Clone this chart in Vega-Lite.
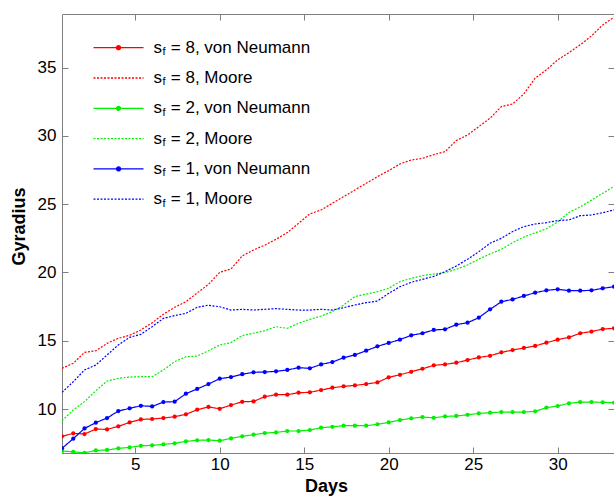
{
  "$schema": "https://vega.github.io/schema/vega-lite/v6.json",
  "width": 552,
  "height": 439,
  "autosize": {"type": "none"},
  "padding": {"left": 62, "top": 14, "right": 0, "bottom": 47},
  "background": "white",
  "config": {
    "font": "Liberation Sans",
    "view": {"stroke": "#7f7f7f", "strokeWidth": 1},
    "axis": {
      "grid": false, "domain": false, "tickColor": "#7f7f7f", "tickSize": -6, "tickWidth": 1,
      "labelFont": "Liberation Sans", "labelFontSize": 17, "labelColor": "#000000",
      "titleFont": "Liberation Sans", "titleFontSize": 18, "titleFontWeight": "bold", "titleColor": "#000000"
    },
    "legend": {"labelFont": "Liberation Sans", "labelFontSize": 17, "labelColor": "#000000", "padding": 0}
  },
  "datasets": {
    "gyr": [
      {"day":0.667,"gyr":8.00,"series":"sf = 8, von Neumann"},{"day":1.333,"gyr":8.22,"series":"sf = 8, von Neumann"},{"day":2.000,"gyr":8.17,"series":"sf = 8, von Neumann"},{"day":2.667,"gyr":8.53,"series":"sf = 8, von Neumann"},{"day":3.333,"gyr":8.51,"series":"sf = 8, von Neumann"},{"day":4.000,"gyr":8.73,"series":"sf = 8, von Neumann"},{"day":4.667,"gyr":9.02,"series":"sf = 8, von Neumann"},{"day":5.333,"gyr":9.24,"series":"sf = 8, von Neumann"},{"day":6.000,"gyr":9.27,"series":"sf = 8, von Neumann"},{"day":6.667,"gyr":9.34,"series":"sf = 8, von Neumann"},
      {"day":7.333,"gyr":9.44,"series":"sf = 8, von Neumann"},{"day":8.000,"gyr":9.61,"series":"sf = 8, von Neumann"},{"day":8.667,"gyr":9.95,"series":"sf = 8, von Neumann"},{"day":9.333,"gyr":10.15,"series":"sf = 8, von Neumann"},{"day":10.000,"gyr":10.02,"series":"sf = 8, von Neumann"},{"day":10.667,"gyr":10.29,"series":"sf = 8, von Neumann"},{"day":11.333,"gyr":10.53,"series":"sf = 8, von Neumann"},{"day":12.000,"gyr":10.56,"series":"sf = 8, von Neumann"},{"day":12.667,"gyr":10.90,"series":"sf = 8, von Neumann"},{"day":13.333,"gyr":11.05,"series":"sf = 8, von Neumann"},
      {"day":14.000,"gyr":11.05,"series":"sf = 8, von Neumann"},{"day":14.667,"gyr":11.20,"series":"sf = 8, von Neumann"},{"day":15.333,"gyr":11.22,"series":"sf = 8, von Neumann"},{"day":16.000,"gyr":11.39,"series":"sf = 8, von Neumann"},{"day":16.667,"gyr":11.56,"series":"sf = 8, von Neumann"},{"day":17.333,"gyr":11.66,"series":"sf = 8, von Neumann"},{"day":18.000,"gyr":11.73,"series":"sf = 8, von Neumann"},{"day":18.667,"gyr":11.83,"series":"sf = 8, von Neumann"},{"day":19.333,"gyr":11.95,"series":"sf = 8, von Neumann"},{"day":20.000,"gyr":12.32,"series":"sf = 8, von Neumann"},
      {"day":20.667,"gyr":12.51,"series":"sf = 8, von Neumann"},{"day":21.333,"gyr":12.73,"series":"sf = 8, von Neumann"},{"day":22.000,"gyr":12.95,"series":"sf = 8, von Neumann"},{"day":22.667,"gyr":13.20,"series":"sf = 8, von Neumann"},{"day":23.333,"gyr":13.27,"series":"sf = 8, von Neumann"},{"day":24.000,"gyr":13.39,"series":"sf = 8, von Neumann"},{"day":24.667,"gyr":13.59,"series":"sf = 8, von Neumann"},{"day":25.333,"gyr":13.78,"series":"sf = 8, von Neumann"},{"day":26.000,"gyr":13.90,"series":"sf = 8, von Neumann"},{"day":26.667,"gyr":14.15,"series":"sf = 8, von Neumann"},
      {"day":27.333,"gyr":14.32,"series":"sf = 8, von Neumann"},{"day":28.000,"gyr":14.47,"series":"sf = 8, von Neumann"},{"day":28.667,"gyr":14.62,"series":"sf = 8, von Neumann"},{"day":29.333,"gyr":14.86,"series":"sf = 8, von Neumann"},{"day":30.000,"gyr":15.08,"series":"sf = 8, von Neumann"},{"day":30.667,"gyr":15.25,"series":"sf = 8, von Neumann"},{"day":31.333,"gyr":15.55,"series":"sf = 8, von Neumann"},{"day":32.000,"gyr":15.67,"series":"sf = 8, von Neumann"},{"day":32.667,"gyr":15.86,"series":"sf = 8, von Neumann"},{"day":33.333,"gyr":15.91,"series":"sf = 8, von Neumann"},

      {"day":0.667,"gyr":12.98,"series":"sf = 8, Moore"},{"day":1.333,"gyr":13.35,"series":"sf = 8, Moore"},{"day":2.000,"gyr":14.15,"series":"sf = 8, Moore"},{"day":2.667,"gyr":14.27,"series":"sf = 8, Moore"},{"day":3.333,"gyr":14.81,"series":"sf = 8, Moore"},{"day":4.000,"gyr":15.18,"series":"sf = 8, Moore"},{"day":4.667,"gyr":15.40,"series":"sf = 8, Moore"},{"day":5.333,"gyr":15.79,"series":"sf = 8, Moore"},{"day":6.000,"gyr":16.32,"series":"sf = 8, Moore"},{"day":6.667,"gyr":16.94,"series":"sf = 8, Moore"},
      {"day":7.333,"gyr":17.45,"series":"sf = 8, Moore"},{"day":8.000,"gyr":17.86,"series":"sf = 8, Moore"},{"day":8.667,"gyr":18.50,"series":"sf = 8, Moore"},{"day":9.333,"gyr":19.13,"series":"sf = 8, Moore"},{"day":10.000,"gyr":20.01,"series":"sf = 8, Moore"},{"day":10.667,"gyr":20.26,"series":"sf = 8, Moore"},{"day":11.333,"gyr":21.21,"series":"sf = 8, Moore"},{"day":12.000,"gyr":21.65,"series":"sf = 8, Moore"},{"day":12.667,"gyr":22.00,"series":"sf = 8, Moore"},{"day":13.333,"gyr":22.43,"series":"sf = 8, Moore"},
      {"day":14.000,"gyr":22.92,"series":"sf = 8, Moore"},{"day":14.667,"gyr":23.60,"series":"sf = 8, Moore"},{"day":15.333,"gyr":24.29,"series":"sf = 8, Moore"},{"day":16.000,"gyr":24.58,"series":"sf = 8, Moore"},{"day":16.667,"gyr":25.07,"series":"sf = 8, Moore"},{"day":17.333,"gyr":25.55,"series":"sf = 8, Moore"},{"day":18.000,"gyr":26.04,"series":"sf = 8, Moore"},{"day":18.667,"gyr":26.53,"series":"sf = 8, Moore"},{"day":19.333,"gyr":27.02,"series":"sf = 8, Moore"},{"day":20.000,"gyr":27.46,"series":"sf = 8, Moore"},
      {"day":20.667,"gyr":27.95,"series":"sf = 8, Moore"},{"day":21.333,"gyr":28.24,"series":"sf = 8, Moore"},{"day":22.000,"gyr":28.36,"series":"sf = 8, Moore"},{"day":22.667,"gyr":28.63,"series":"sf = 8, Moore"},{"day":23.333,"gyr":28.85,"series":"sf = 8, Moore"},{"day":24.000,"gyr":29.66,"series":"sf = 8, Moore"},{"day":24.667,"gyr":30.07,"series":"sf = 8, Moore"},{"day":25.333,"gyr":30.68,"series":"sf = 8, Moore"},{"day":26.000,"gyr":31.30,"series":"sf = 8, Moore"},{"day":26.667,"gyr":32.15,"series":"sf = 8, Moore"},
      {"day":27.333,"gyr":32.34,"series":"sf = 8, Moore"},{"day":28.000,"gyr":33.08,"series":"sf = 8, Moore"},{"day":28.667,"gyr":34.23,"series":"sf = 8, Moore"},{"day":29.333,"gyr":34.84,"series":"sf = 8, Moore"},{"day":30.000,"gyr":35.57,"series":"sf = 8, Moore"},{"day":30.667,"gyr":36.10,"series":"sf = 8, Moore"},{"day":31.333,"gyr":36.67,"series":"sf = 8, Moore"},{"day":32.000,"gyr":37.33,"series":"sf = 8, Moore"},{"day":32.667,"gyr":38.13,"series":"sf = 8, Moore"},{"day":33.333,"gyr":38.70,"series":"sf = 8, Moore"},

      {"day":0.667,"gyr":6.92,"series":"sf = 2, von Neumann"},{"day":1.333,"gyr":6.87,"series":"sf = 2, von Neumann"},{"day":2.000,"gyr":6.79,"series":"sf = 2, von Neumann"},{"day":2.667,"gyr":6.97,"series":"sf = 2, von Neumann"},{"day":3.333,"gyr":7.00,"series":"sf = 2, von Neumann"},{"day":4.000,"gyr":7.12,"series":"sf = 2, von Neumann"},{"day":4.667,"gyr":7.19,"series":"sf = 2, von Neumann"},{"day":5.333,"gyr":7.31,"series":"sf = 2, von Neumann"},{"day":6.000,"gyr":7.34,"series":"sf = 2, von Neumann"},{"day":6.667,"gyr":7.41,"series":"sf = 2, von Neumann"},
      {"day":7.333,"gyr":7.49,"series":"sf = 2, von Neumann"},{"day":8.000,"gyr":7.63,"series":"sf = 2, von Neumann"},{"day":8.667,"gyr":7.71,"series":"sf = 2, von Neumann"},{"day":9.333,"gyr":7.73,"series":"sf = 2, von Neumann"},{"day":10.000,"gyr":7.68,"series":"sf = 2, von Neumann"},{"day":10.667,"gyr":7.85,"series":"sf = 2, von Neumann"},{"day":11.333,"gyr":8.00,"series":"sf = 2, von Neumann"},{"day":12.000,"gyr":8.12,"series":"sf = 2, von Neumann"},{"day":12.667,"gyr":8.24,"series":"sf = 2, von Neumann"},{"day":13.333,"gyr":8.29,"series":"sf = 2, von Neumann"},
      {"day":14.000,"gyr":8.39,"series":"sf = 2, von Neumann"},{"day":14.667,"gyr":8.39,"series":"sf = 2, von Neumann"},{"day":15.333,"gyr":8.46,"series":"sf = 2, von Neumann"},{"day":16.000,"gyr":8.63,"series":"sf = 2, von Neumann"},{"day":16.667,"gyr":8.70,"series":"sf = 2, von Neumann"},{"day":17.333,"gyr":8.78,"series":"sf = 2, von Neumann"},{"day":18.000,"gyr":8.78,"series":"sf = 2, von Neumann"},{"day":18.667,"gyr":8.78,"series":"sf = 2, von Neumann"},{"day":19.333,"gyr":8.88,"series":"sf = 2, von Neumann"},{"day":20.000,"gyr":9.02,"series":"sf = 2, von Neumann"},
      {"day":20.667,"gyr":9.19,"series":"sf = 2, von Neumann"},{"day":21.333,"gyr":9.32,"series":"sf = 2, von Neumann"},{"day":22.000,"gyr":9.41,"series":"sf = 2, von Neumann"},{"day":22.667,"gyr":9.36,"series":"sf = 2, von Neumann"},{"day":23.333,"gyr":9.46,"series":"sf = 2, von Neumann"},{"day":24.000,"gyr":9.49,"series":"sf = 2, von Neumann"},{"day":24.667,"gyr":9.58,"series":"sf = 2, von Neumann"},{"day":25.333,"gyr":9.68,"series":"sf = 2, von Neumann"},{"day":26.000,"gyr":9.73,"series":"sf = 2, von Neumann"},{"day":26.667,"gyr":9.78,"series":"sf = 2, von Neumann"},
      {"day":27.333,"gyr":9.78,"series":"sf = 2, von Neumann"},{"day":28.000,"gyr":9.78,"series":"sf = 2, von Neumann"},{"day":28.667,"gyr":9.83,"series":"sf = 2, von Neumann"},{"day":29.333,"gyr":10.10,"series":"sf = 2, von Neumann"},{"day":30.000,"gyr":10.22,"series":"sf = 2, von Neumann"},{"day":30.667,"gyr":10.42,"series":"sf = 2, von Neumann"},{"day":31.333,"gyr":10.51,"series":"sf = 2, von Neumann"},{"day":32.000,"gyr":10.51,"series":"sf = 2, von Neumann"},{"day":32.667,"gyr":10.49,"series":"sf = 2, von Neumann"},{"day":33.333,"gyr":10.46,"series":"sf = 2, von Neumann"},

      {"day":0.667,"gyr":9.14,"series":"sf = 2, Moore"},{"day":1.333,"gyr":9.93,"series":"sf = 2, Moore"},{"day":2.000,"gyr":10.54,"series":"sf = 2, Moore"},{"day":2.667,"gyr":11.34,"series":"sf = 2, Moore"},{"day":3.333,"gyr":12.05,"series":"sf = 2, Moore"},{"day":4.000,"gyr":12.25,"series":"sf = 2, Moore"},{"day":4.667,"gyr":12.34,"series":"sf = 2, Moore"},{"day":5.333,"gyr":12.37,"series":"sf = 2, Moore"},{"day":6.000,"gyr":12.37,"series":"sf = 2, Moore"},{"day":6.667,"gyr":12.86,"series":"sf = 2, Moore"},
      {"day":7.333,"gyr":13.47,"series":"sf = 2, Moore"},{"day":8.000,"gyr":13.83,"series":"sf = 2, Moore"},{"day":8.667,"gyr":13.88,"series":"sf = 2, Moore"},{"day":9.333,"gyr":14.27,"series":"sf = 2, Moore"},{"day":10.000,"gyr":14.69,"series":"sf = 2, Moore"},{"day":10.667,"gyr":14.86,"series":"sf = 2, Moore"},{"day":11.333,"gyr":15.38,"series":"sf = 2, Moore"},{"day":12.000,"gyr":15.55,"series":"sf = 2, Moore"},{"day":12.667,"gyr":15.74,"series":"sf = 2, Moore"},{"day":13.333,"gyr":16.03,"series":"sf = 2, Moore"},
      {"day":14.000,"gyr":15.91,"series":"sf = 2, Moore"},{"day":14.667,"gyr":16.28,"series":"sf = 2, Moore"},{"day":15.333,"gyr":16.57,"series":"sf = 2, Moore"},{"day":16.000,"gyr":16.81,"series":"sf = 2, Moore"},{"day":16.667,"gyr":17.13,"series":"sf = 2, Moore"},{"day":17.333,"gyr":17.62,"series":"sf = 2, Moore"},{"day":18.000,"gyr":18.23,"series":"sf = 2, Moore"},{"day":18.667,"gyr":18.42,"series":"sf = 2, Moore"},{"day":19.333,"gyr":18.59,"series":"sf = 2, Moore"},{"day":20.000,"gyr":18.84,"series":"sf = 2, Moore"},
      {"day":20.667,"gyr":19.33,"series":"sf = 2, Moore"},{"day":21.333,"gyr":19.57,"series":"sf = 2, Moore"},{"day":22.000,"gyr":19.77,"series":"sf = 2, Moore"},{"day":22.667,"gyr":19.89,"series":"sf = 2, Moore"},{"day":23.333,"gyr":19.99,"series":"sf = 2, Moore"},{"day":24.000,"gyr":20.23,"series":"sf = 2, Moore"},{"day":24.667,"gyr":20.55,"series":"sf = 2, Moore"},{"day":25.333,"gyr":20.97,"series":"sf = 2, Moore"},{"day":26.000,"gyr":21.36,"series":"sf = 2, Moore"},{"day":26.667,"gyr":21.70,"series":"sf = 2, Moore"},
      {"day":27.333,"gyr":22.18,"series":"sf = 2, Moore"},{"day":28.000,"gyr":22.60,"series":"sf = 2, Moore"},{"day":28.667,"gyr":22.90,"series":"sf = 2, Moore"},{"day":29.333,"gyr":23.20,"series":"sf = 2, Moore"},{"day":30.000,"gyr":23.70,"series":"sf = 2, Moore"},{"day":30.667,"gyr":24.40,"series":"sf = 2, Moore"},{"day":31.333,"gyr":24.80,"series":"sf = 2, Moore"},{"day":32.000,"gyr":25.30,"series":"sf = 2, Moore"},{"day":32.667,"gyr":25.80,"series":"sf = 2, Moore"},{"day":33.333,"gyr":26.30,"series":"sf = 2, Moore"},

      {"day":0.667,"gyr":7.12,"series":"sf = 1, von Neumann"},{"day":1.333,"gyr":7.83,"series":"sf = 1, von Neumann"},{"day":2.000,"gyr":8.58,"series":"sf = 1, von Neumann"},{"day":2.667,"gyr":9.00,"series":"sf = 1, von Neumann"},{"day":3.333,"gyr":9.34,"series":"sf = 1, von Neumann"},{"day":4.000,"gyr":9.85,"series":"sf = 1, von Neumann"},{"day":4.667,"gyr":10.05,"series":"sf = 1, von Neumann"},{"day":5.333,"gyr":10.24,"series":"sf = 1, von Neumann"},{"day":6.000,"gyr":10.19,"series":"sf = 1, von Neumann"},{"day":6.667,"gyr":10.51,"series":"sf = 1, von Neumann"},
      {"day":7.333,"gyr":10.54,"series":"sf = 1, von Neumann"},{"day":8.000,"gyr":11.12,"series":"sf = 1, von Neumann"},{"day":8.667,"gyr":11.47,"series":"sf = 1, von Neumann"},{"day":9.333,"gyr":11.83,"series":"sf = 1, von Neumann"},{"day":10.000,"gyr":12.22,"series":"sf = 1, von Neumann"},{"day":10.667,"gyr":12.34,"series":"sf = 1, von Neumann"},{"day":11.333,"gyr":12.55,"series":"sf = 1, von Neumann"},{"day":12.000,"gyr":12.69,"series":"sf = 1, von Neumann"},{"day":12.667,"gyr":12.71,"series":"sf = 1, von Neumann"},{"day":13.333,"gyr":12.76,"series":"sf = 1, von Neumann"},
      {"day":14.000,"gyr":12.86,"series":"sf = 1, von Neumann"},{"day":14.667,"gyr":13.03,"series":"sf = 1, von Neumann"},{"day":15.333,"gyr":12.98,"series":"sf = 1, von Neumann"},{"day":16.000,"gyr":13.27,"series":"sf = 1, von Neumann"},{"day":16.667,"gyr":13.44,"series":"sf = 1, von Neumann"},{"day":17.333,"gyr":13.76,"series":"sf = 1, von Neumann"},{"day":18.000,"gyr":13.96,"series":"sf = 1, von Neumann"},{"day":18.667,"gyr":14.27,"series":"sf = 1, von Neumann"},{"day":19.333,"gyr":14.59,"series":"sf = 1, von Neumann"},{"day":20.000,"gyr":14.84,"series":"sf = 1, von Neumann"},
      {"day":20.667,"gyr":15.08,"series":"sf = 1, von Neumann"},{"day":21.333,"gyr":15.40,"series":"sf = 1, von Neumann"},{"day":22.000,"gyr":15.55,"series":"sf = 1, von Neumann"},{"day":22.667,"gyr":15.79,"series":"sf = 1, von Neumann"},{"day":23.333,"gyr":15.84,"series":"sf = 1, von Neumann"},{"day":24.000,"gyr":16.18,"series":"sf = 1, von Neumann"},{"day":24.667,"gyr":16.32,"series":"sf = 1, von Neumann"},{"day":25.333,"gyr":16.69,"series":"sf = 1, von Neumann"},{"day":26.000,"gyr":17.30,"series":"sf = 1, von Neumann"},{"day":26.667,"gyr":17.86,"series":"sf = 1, von Neumann"},
      {"day":27.333,"gyr":18.03,"series":"sf = 1, von Neumann"},{"day":28.000,"gyr":18.28,"series":"sf = 1, von Neumann"},{"day":28.667,"gyr":18.52,"series":"sf = 1, von Neumann"},{"day":29.333,"gyr":18.69,"series":"sf = 1, von Neumann"},{"day":30.000,"gyr":18.77,"series":"sf = 1, von Neumann"},{"day":30.667,"gyr":18.67,"series":"sf = 1, von Neumann"},{"day":31.333,"gyr":18.67,"series":"sf = 1, von Neumann"},{"day":32.000,"gyr":18.69,"series":"sf = 1, von Neumann"},{"day":32.667,"gyr":18.84,"series":"sf = 1, von Neumann"},{"day":33.333,"gyr":18.96,"series":"sf = 1, von Neumann"},

      {"day":0.667,"gyr":11.22,"series":"sf = 1, Moore"},{"day":1.333,"gyr":12.00,"series":"sf = 1, Moore"},{"day":2.000,"gyr":12.86,"series":"sf = 1, Moore"},{"day":2.667,"gyr":13.22,"series":"sf = 1, Moore"},{"day":3.333,"gyr":13.96,"series":"sf = 1, Moore"},{"day":4.000,"gyr":14.69,"series":"sf = 1, Moore"},{"day":4.667,"gyr":15.25,"series":"sf = 1, Moore"},{"day":5.333,"gyr":15.47,"series":"sf = 1, Moore"},{"day":6.000,"gyr":16.03,"series":"sf = 1, Moore"},{"day":6.667,"gyr":16.64,"series":"sf = 1, Moore"},
      {"day":7.333,"gyr":16.84,"series":"sf = 1, Moore"},{"day":8.000,"gyr":17.01,"series":"sf = 1, Moore"},{"day":8.667,"gyr":17.45,"series":"sf = 1, Moore"},{"day":9.333,"gyr":17.60,"series":"sf = 1, Moore"},{"day":10.000,"gyr":17.49,"series":"sf = 1, Moore"},{"day":10.667,"gyr":17.25,"series":"sf = 1, Moore"},{"day":11.333,"gyr":17.30,"series":"sf = 1, Moore"},{"day":12.000,"gyr":17.25,"series":"sf = 1, Moore"},{"day":12.667,"gyr":17.30,"series":"sf = 1, Moore"},{"day":13.333,"gyr":17.35,"series":"sf = 1, Moore"},
      {"day":14.000,"gyr":17.30,"series":"sf = 1, Moore"},{"day":14.667,"gyr":17.25,"series":"sf = 1, Moore"},{"day":15.333,"gyr":17.25,"series":"sf = 1, Moore"},{"day":16.000,"gyr":17.30,"series":"sf = 1, Moore"},{"day":16.667,"gyr":17.25,"series":"sf = 1, Moore"},{"day":17.333,"gyr":17.42,"series":"sf = 1, Moore"},{"day":18.000,"gyr":17.62,"series":"sf = 1, Moore"},{"day":18.667,"gyr":17.79,"series":"sf = 1, Moore"},{"day":19.333,"gyr":17.91,"series":"sf = 1, Moore"},{"day":20.000,"gyr":18.47,"series":"sf = 1, Moore"},
      {"day":20.667,"gyr":18.96,"series":"sf = 1, Moore"},{"day":21.333,"gyr":19.28,"series":"sf = 1, Moore"},{"day":22.000,"gyr":19.50,"series":"sf = 1, Moore"},{"day":22.667,"gyr":19.72,"series":"sf = 1, Moore"},{"day":23.333,"gyr":20.06,"series":"sf = 1, Moore"},{"day":24.000,"gyr":20.48,"series":"sf = 1, Moore"},{"day":24.667,"gyr":20.97,"series":"sf = 1, Moore"},{"day":25.333,"gyr":21.52,"series":"sf = 1, Moore"},{"day":26.000,"gyr":22.14,"series":"sf = 1, Moore"},{"day":26.667,"gyr":22.50,"series":"sf = 1, Moore"},
      {"day":27.333,"gyr":23.00,"series":"sf = 1, Moore"},{"day":28.000,"gyr":23.36,"series":"sf = 1, Moore"},{"day":28.667,"gyr":23.55,"series":"sf = 1, Moore"},{"day":29.333,"gyr":23.65,"series":"sf = 1, Moore"},{"day":30.000,"gyr":23.80,"series":"sf = 1, Moore"},{"day":30.667,"gyr":23.85,"series":"sf = 1, Moore"},{"day":31.333,"gyr":24.16,"series":"sf = 1, Moore"},{"day":32.000,"gyr":24.21,"series":"sf = 1, Moore"},{"day":32.667,"gyr":24.38,"series":"sf = 1, Moore"},{"day":33.333,"gyr":24.58,"series":"sf = 1, Moore"}
    ]
  },
  "data": {"name": "gyr"},
  "layer": [
    {
      "mark": {"type": "line", "strokeWidth": 1.2, "clip": true},
      "encoding": {
        "x": {"field": "day", "type": "quantitative", "scale": {"domain": [0.6667, 33.3333], "nice": false, "zero": false},
              "axis": {"orient": "bottom", "values": [5, 10, 15, 20, 25, 30], "title": "Days", "labelPadding": 9, "titlePadding": 5, "titleX": 264}},
        "y": {"field": "gyr", "type": "quantitative", "scale": {"domain": [6.78, 38.93], "nice": false, "zero": false},
              "axis": {"orient": "left", "values": [10, 15, 20, 25, 30, 35], "title": "Gyradius", "labelPadding": 12, "titlePadding": 9, "titleY": 212}},
        "color": {"field": "series", "type": "nominal",
          "scale": {"domain": ["sf = 8, von Neumann", "sf = 8, Moore", "sf = 2, von Neumann", "sf = 2, Moore", "sf = 1, von Neumann", "sf = 1, Moore"],
                    "range": ["#ff0000", "#ff0000", "#00f000", "#00f000", "#0000ff", "#0000ff"]},
          "legend": {"orient": "none", "legendX": 30.5, "legendY": 24.7, "title": null, "padding": 0,
                     "symbolType": "stroke", "symbolSize": 2500, "symbolStrokeWidth": 1.3,
                     "labelFontSize": 17, "labelOffset": 9, "clipHeight": 18, "rowPadding": 12.3,
                     "labelExpr": "'s'",
                     "encode": {"symbols": {"update": {
                        "shape": {"signal": "indexof(datum.value, 'Neumann') >= 0 ? 'M-1,0L1,0M0.08,0A0.08,0.08,0,1,1,-0.08,0A0.08,0.08,0,1,1,0.08,0Z' : 'stroke'"},
                        "fill": {"scale": "color", "field": "value"}, "strokeWidth": {"value": 1.3}}}}}},
        "strokeDash": {"field": "series", "type": "nominal",
          "scale": {"domain": ["sf = 8, von Neumann", "sf = 8, Moore", "sf = 2, von Neumann", "sf = 2, Moore", "sf = 1, von Neumann", "sf = 1, Moore"],
                    "range": [[1, 0], [2, 1.5], [1, 0], [2, 1.5], [1, 0], [2, 1.5]]}},
        "opacity": {"field": "series", "type": "nominal", "sort": null,
          "scale": {"type": "ordinal", "range": [1, 1, 1, 1, 1, 1]},
          "legend": {"orient": "none", "legendX": 88.5, "legendY": 29, "title": null, "padding": 0,
                     "symbolType": "stroke", "symbolSize": 100, "symbolOffset": 0,
                     "labelFontSize": 11, "labelOffset": 0, "clipHeight": 18, "rowPadding": 12.3, "labelExpr": "'f'",
                     "encode": {"symbols": {"update": {"opacity": {"value": 0}, "stroke": {"value": "transparent"}, "fill": {"value": "transparent"}}}}}},
        "strokeWidth": {"field": "series", "type": "nominal",
          "scale": {"type": "ordinal", "domain": ["sf = 1, Moore", "sf = 1, von Neumann", "sf = 2, Moore", "sf = 2, von Neumann", "sf = 8, Moore", "sf = 8, von Neumann"],
                    "range": [1.1, 1.5, 1.1, 1.5, 1.1, 1.5]},
          "legend": {"orient": "none", "legendX": 91.8, "legendY": 24.7, "title": null, "padding": 0,
                     "values": ["sf = 8, von Neumann", "sf = 8, Moore", "sf = 2, von Neumann", "sf = 2, Moore", "sf = 1, von Neumann", "sf = 1, Moore"],
                     "symbolType": "stroke", "symbolSize": 100, "symbolOffset": 0,
                     "labelFontSize": 17, "labelOffset": 0, "labelLimit": 300, "clipHeight": 18, "rowPadding": 12.3,
                     "labelExpr": "replace(datum.label, 'sf ', '')",
                     "encode": {"symbols": {"update": {"opacity": {"value": 0}, "stroke": {"value": "transparent"}, "fill": {"value": "transparent"}}}}}}
      }
    },
    {
      "transform": [{"filter": "indexof(datum.series, 'Neumann') >= 0"}],
      "mark": {"type": "point", "filled": true, "size": 18, "opacity": 1, "clip": true},
      "encoding": {
        "x": {"field": "day", "type": "quantitative",
              "axis": {"orient": "top", "values": [5, 10, 15, 20, 25, 30], "labels": false, "title": null}},
        "y": {"field": "gyr", "type": "quantitative",
              "axis": {"orient": "right", "values": [10, 15, 20, 25, 30, 35], "labels": false, "title": null}},
        "color": {"field": "series", "type": "nominal", "legend": null}
      }
    }
  ]
}
